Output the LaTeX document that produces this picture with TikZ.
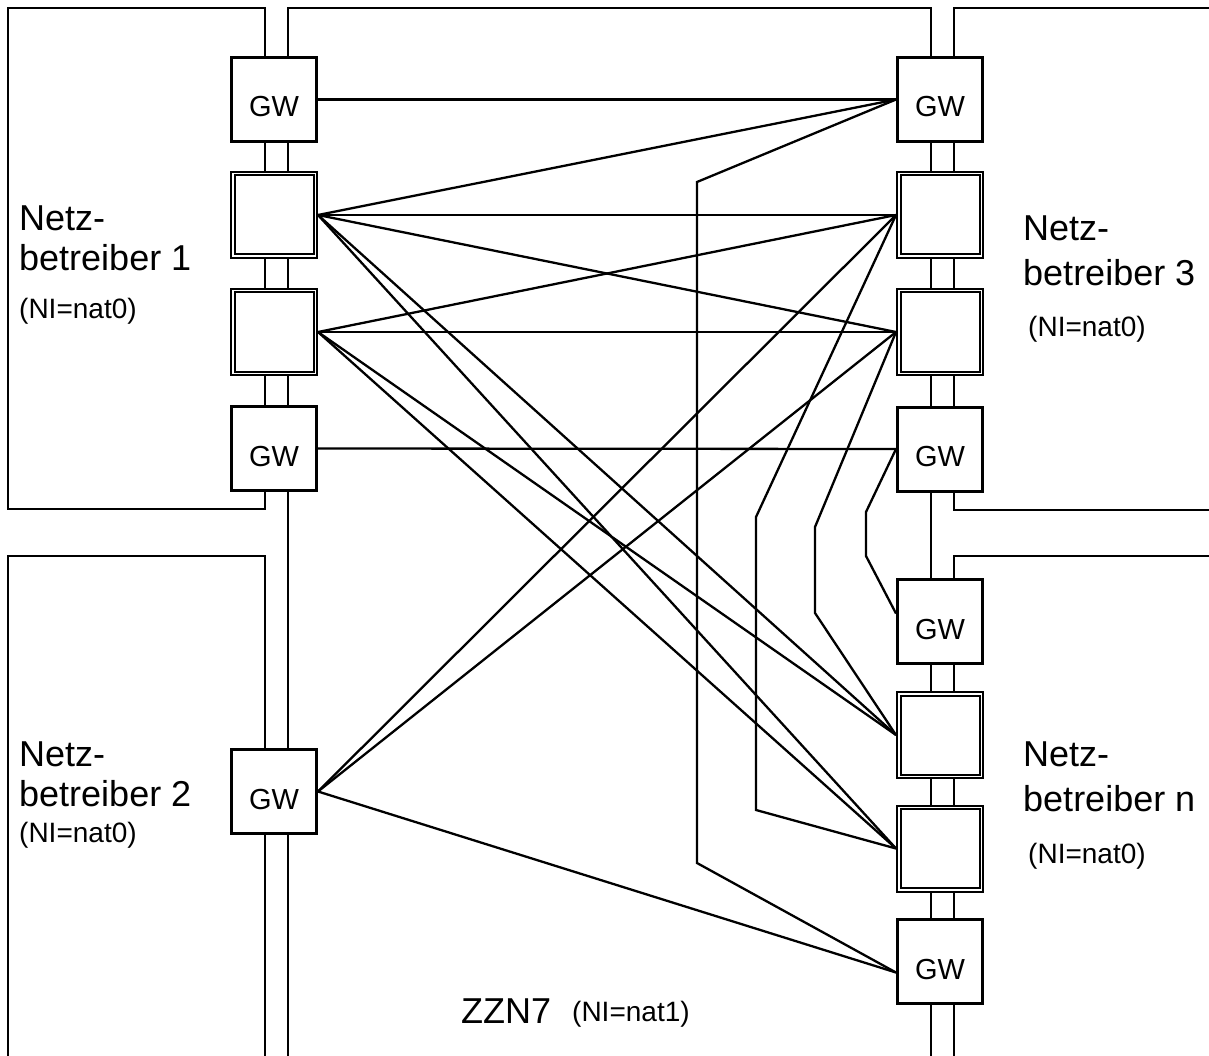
\documentclass[tikz,border=0pt]{standalone}
\usepackage{fontspec}
\setmainfont{Liberation Sans}
\usepackage{tikz}
\usetikzlibrary{calc}
\tikzset{
    gw/.style={draw, line width=3pt, minimum width=85pt, minimum height=84pt, inner sep=0pt, text height=35pt, text depth=0pt, font=\fontsize{29}{32}\selectfont},
    stp/.style={draw, line width=2pt, double, double distance=1.5pt, minimum width=82.5pt, minimum height=82.5pt, inner sep=0pt, outer sep=2.75pt},
    bus/.style={line width=2.3pt},
    link/.style={line width=2.3pt},
    netlabel/.style={align=left, anchor=north west, inner sep=0pt, font=\fontsize{36}{40}\selectfont},
    nilabel/.style={anchor=base west, inner sep=0pt, font=\fontsize{28}{32}\selectfont}
}

\begin{document}
\begin{tikzpicture}[x=1pt, y=-1pt]
    \useasboundingbox (0,0) rectangle (1209,1056);

    % linke Spalte
    \begin{scope}[shift={(274,0)}]
        \node[gw] (gw1) at (0,99.5) {GW};
        \node[stp] (d1) at (0,215) {};
        \node[stp] (d2) at (0,332) {};
        \node[gw] (gw2) at (0,448.5) {GW};
        \node[gw] (gw7) at (0,791.5) {GW};
    \end{scope}

    % rechte Spalte
    \begin{scope}[shift={(940,0)}]
        \node[gw] (gw3) at (0,99.5) {GW};
        \node[stp] (d3) at (0,215) {};
        \node[stp] (d4) at (0,332) {};
        \node[gw] (gw4) at (0,449) {GW};
        \node[gw] (gw5) at (0,621.5) {GW};
        \node[stp] (d5) at (0,735) {};
        \node[stp] (d6) at (0,848.5) {};
        \node[gw] (gw6) at (0,961.5) {GW};
    \end{scope}

    % Verbindungsstuecke
    \foreach \a/\b in {gw1/d1, d1/d2, d2/gw2, gw3/d3, d3/d4, d4/gw4, gw5/d5, d5/d6, d6/gw6}
        \draw[bus] ([xshift=-9pt]\a.south) -- ([xshift=-9pt]\b.north)
                   ([xshift=14pt]\a.south) -- ([xshift=14pt]\b.north);

    % Netzbetreiber 1
    \draw[bus] ([xshift=-9pt]gw1.north) |- (8,8) -- (8,509) -| ([xshift=-9pt]gw2.south);
    \node[netlabel] (nb1) at (19,206) {Netz-\\betreiber 1};
    \node[nilabel] (ni1) at (19,319) {(NI=nat0)};

    % Netzbetreiber 2
    \draw[bus] ([xshift=-9pt]gw7.north) |- (8,556) -- (8,1070);
    \draw[bus] ([xshift=-9pt]gw7.south) -- ++(0,240);
    \node[netlabel] (nb2) at (19,742) {Netz-\\betreiber 2};
    \node[nilabel] (ni2) at (19,842) {(NI=nat0)};

    % Netzbetreiber 3
    \draw[bus] ([xshift=14pt]gw3.north) |- (1220,8);
    \draw[bus] ([xshift=14pt]gw4.south) |- (1220,510);
    \node[netlabel, font=\fontsize{36}{45}\selectfont] (nb3) at (1023,216) {Netz-\\betreiber 3};
    \node[nilabel] (ni3) at (1028,337) {(NI=nat0)};

    % Netzbetreiber n
    \draw[bus] ([xshift=14pt]gw5.north) |- (1220,556);
    \draw[bus] ([xshift=-9pt]gw6.south) -- ++(0,100)
               ([xshift=14pt]gw6.south) -- ++(0,100);
    \node[netlabel, font=\fontsize{36}{45}\selectfont] (nbn) at (1023,742) {Netz-\\betreiber n};
    \node[nilabel] (nin) at (1028,863) {(NI=nat0)};

    % ZZN7
    \draw[bus] ([xshift=14pt]gw1.north) -- ++(0,-48) -| ([xshift=-9pt]gw3.north);
    \draw[bus] ([xshift=14pt]gw2.south) -- ([xshift=14pt]gw7.north);
    \draw[bus] ([xshift=14pt]gw7.south) -- ++(0,240);
    \draw[bus] ([xshift=-9pt]gw4.south) -- ([xshift=-9pt]gw5.north);
    \node[anchor=base west, inner sep=0pt, font=\fontsize{36}{40}\selectfont] (zzn) at (461,1023) {ZZN7};
    \node[nilabel] (ni7) at (572,1021) {(NI=nat1)};

    % Verbindungen
    \draw[link] (gw1.east) -- (gw3.west);
    \draw[link] (gw2.east) -- (gw4.west);
    \draw[link] (d1.east) -- (gw3.west);
    \foreach \s in {d1, d2}
        \foreach \t in {d3, d4, d5, d6}
            \draw[link] (\s.east) -- (\t.west);
    \foreach \t in {d3, d4}
        \draw[link] (gw7.east) -- (\t.west);
    \draw[link] (gw7.east) -- ([yshift=-11pt]gw6.west);

    % Umwege
    \draw[link] (gw3.west) -- (697,182) -- (697,863) -- ([yshift=-11pt]gw6.west);
    \draw[link] (d3.west) -- (756,517) -- (756,810) -- (d6.west);
    \draw[link] (d4.west) -- (815,527) -- (815,613) -- (d5.west);
    \draw[link] (gw4.west) -- (866,512) -- (866,556) -- ([yshift=8pt]gw5.west);
\end{tikzpicture}
\end{document}
